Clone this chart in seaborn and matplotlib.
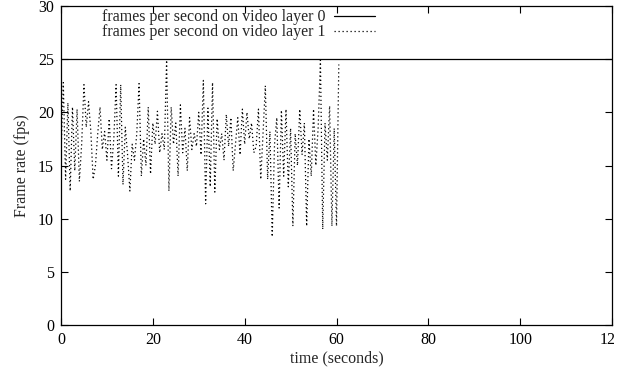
import matplotlib
matplotlib.use("Agg")
import matplotlib.pyplot as plt
import seaborn as sns
import pandas as pd
from matplotlib.transforms import Bbox

layer0_time = [0, 120]
layer0_fps = [25, 25]

layer1_time = [0.0, 0.5, 1.0, 1.5, 2.0, 2.5, 3.0, 3.5, 4.0, 4.5,
               5.0, 5.5, 6.0, 6.5, 7.0, 7.5, 8.0, 8.5, 9.0, 9.5,
               10.0, 10.5, 11.0, 11.5, 12.0, 12.5, 13.0, 13.5, 14.0, 14.5,
               15.0, 15.5, 16.0, 16.5, 17.0, 17.5, 18.0, 18.5, 19.0, 19.5,
               20.0, 20.5, 21.0, 21.5, 22.0, 22.5, 23.0, 23.5, 24.0, 24.5,
               25.0, 25.5, 26.0, 26.5, 27.0, 27.5, 28.0, 28.5, 29.0, 29.5,
               30.0, 30.5, 31.0, 31.5, 32.0, 32.5, 33.0, 33.5, 34.0, 34.5,
               35.0, 35.5, 36.0, 36.5, 37.0, 37.5, 38.0, 38.5, 39.0, 39.5,
               40.0, 40.5, 41.0, 41.5, 42.0, 42.5, 43.0, 43.5, 44.0, 44.5,
               45.0, 45.5, 46.0, 46.5, 47.0, 47.5, 48.0, 48.5, 49.0, 49.5,
               50.0, 50.5, 51.0, 51.5, 52.0, 52.5, 53.0, 53.5, 54.0, 54.5,
               55.0, 55.5, 56.0, 56.5, 57.0, 57.5, 58.0, 58.5, 59.0, 59.5,
               60.0, 60.5]
layer1_fps = [16.0, 22.8, 13.7, 20.9, 12.6, 20.5, 14.5, 20.3, 13.5, 17.0,
              22.6, 18.6, 21.0, 18.2, 13.7, 15.0, 18.0, 20.5, 16.5, 18.2,
              15.5, 19.4, 14.7, 17.5, 22.6, 14.0, 22.6, 13.2, 18.6, 16.0,
              12.6, 17.0, 15.5, 18.0, 22.7, 14.0, 17.5, 15.0, 20.5, 14.2,
              19.0, 17.0, 20.1, 16.2, 18.0, 16.5, 24.9, 12.6, 20.5, 17.0,
              19.0, 14.0, 20.7, 16.2, 18.5, 14.5, 19.5, 16.5, 18.0, 16.8,
              20.0, 16.0, 23.0, 11.4, 20.4, 13.0, 22.8, 12.5, 19.4, 16.5,
              18.0, 15.5, 19.8, 16.8, 19.5, 14.5, 17.0, 19.5, 16.0, 20.3,
              17.0, 20.0, 17.5, 19.0, 16.2, 16.8, 20.3, 13.7, 18.0, 22.5,
              13.7, 18.2, 8.3, 17.0, 19.5, 11.0, 20.2, 14.0, 20.3, 13.0,
              18.5, 9.3, 18.0, 15.0, 20.3, 16.0, 19.0, 9.3, 17.5, 14.0,
              20.3, 15.0, 18.5, 24.9, 9.0, 19.0, 15.5, 20.6, 9.3, 18.5,
              9.3, 24.5]

label0 = "frames per second on video layer 0"
label1 = "frames per second on video layer 1"
x_ticks = [0, 20, 40, 60, 80, 100, 120]
y_ticks = [0, 5, 10, 15, 20, 25, 30]

sns.set_style("ticks")
plt.rcParams['font.family'] = ['Liberation Serif', 'DejaVu Serif']

fig = plt.figure(figsize=(6.26, 3.72), dpi=100)
ax = fig.add_axes([61 / 626, 1 - 325 / 372, (612 - 61) / 626, (325 - 6) / 372])

df0 = pd.DataFrame({"t": layer0_time, "fps": layer0_fps})
df1 = pd.DataFrame({"t": layer1_time, "fps": layer1_fps})
sns.lineplot(data=df0, x="t", y="fps", ax=ax, color="black", lw=0.9, label=label0)
sns.lineplot(data=df1, x="t", y="fps", ax=ax, color="black", lw=0.9,
             linestyle=(0, (1, 2.2)), label=label1)

ax.set_xlim(0, 120)
ax.set_ylim(0, 30)
ax.set_xticks(x_ticks)
ax.set_yticks(y_ticks)
ax.set_xticklabels([str(v) for v in x_ticks])
ax.set_yticklabels([str(v) for v in y_ticks])
ax.tick_params(direction="in", length=5, width=0.8, top=True, right=True,
               labelsize=11.5, colors="black", pad=5)
for s in ax.spines.values():
    s.set_linewidth(0.9)
    s.set_color("black")
ax.set_xlabel("time (seconds)", fontsize=11.5, labelpad=2)
ax.set_ylabel("Frame rate (fps)", fontsize=11.5, labelpad=6)

leg = ax.legend(loc="upper left", bbox_to_anchor=(0.075, 0.99), frameon=False,
                markerfirst=False, fontsize=11.5, handlelength=2.6,
                handletextpad=0.5, labelspacing=-0.06, borderaxespad=0,
                borderpad=0)

# clip the last x tick label like the reference image edge
fig.canvas.draw()
last = ax.xaxis.get_major_ticks()[-1].label1
last.set_clip_box(Bbox([[0, 0], [614, 372]]))
last.set_clip_on(True)

fig.savefig("out.png", dpi=100)
